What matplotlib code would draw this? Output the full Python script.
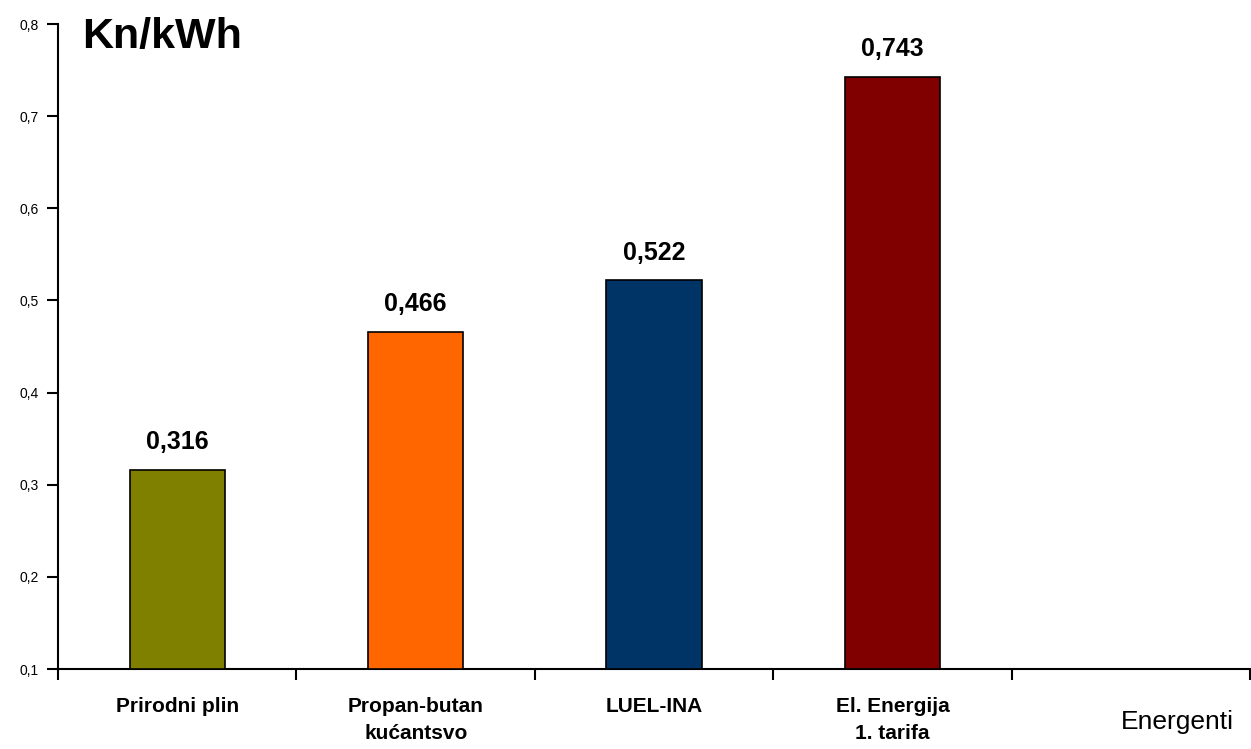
import matplotlib
matplotlib.use("Agg")
import matplotlib.pyplot as plt
from matplotlib.ticker import FixedLocator, NullFormatter

# data
categories = ["Prirodni plin", "Propan-butan\nkućantsvo", "LUEL-INA", "El. Energija\n1. tarifa"]
values     = [0.316, 0.466, 0.522, 0.743]
colors     = ["#808000", "#FF6600", "#003366", "#800000"]
yticks     = [0.1, 0.2, 0.3, 0.4, 0.5, 0.6, 0.7, 0.8]
n_slots    = 5                     # the last category slot is empty

plt.rcParams["font.family"] = ["Liberation Sans", "DejaVu Sans"]

fig = plt.figure(figsize=(12.51, 7.49), dpi=100)
ax = fig.add_axes([0.0464, 0.1068, 0.953, 0.861])

x = list(range(len(values)))
ax.bar(x, [v - 0.1 for v in values], bottom=0.1, width=0.40, color=colors,
       edgecolor="black", linewidth=1.2, zorder=3)

for xi, v in zip(x, values):
    ax.text(xi, v + 0.017, f"{v:.3f}".replace(".", ","), ha="center", va="bottom",
            fontsize=18, fontweight="bold")

ax.set_xlim(-0.5, n_slots - 0.5)
ax.set_ylim(0.1, 0.8)

ax.set_yticks(yticks)
ax.set_yticklabels([f"{t:.1f}".replace(".", ",") for t in yticks], fontsize=10)

# category boundaries carry the tick marks, labels sit in the middle
ax.xaxis.set_major_locator(FixedLocator([i - 0.5 for i in range(n_slots + 1)]))
ax.xaxis.set_major_formatter(NullFormatter())
ax.xaxis.set_minor_locator(FixedLocator(x))
ax.set_xticklabels(categories, minor=True, fontsize=15, fontweight="bold",
                   linespacing=1.55)
ax.tick_params(axis="x", which="minor", length=0, pad=20)
ax.tick_params(axis="x", which="major", length=8, width=1.5, direction="out")
ax.tick_params(axis="y", length=8, width=1.5, direction="out", pad=6)

for s in ("top", "right"):
    ax.spines[s].set_visible(False)
for s in ("left", "bottom"):
    ax.spines[s].set_linewidth(1.5)

fig.text(0.0655, 0.951, "Kn/kWh", fontsize=31, fontweight="bold", va="center", ha="left")
fig.text(0.9415, 0.036, "Energenti", fontsize=19, va="center", ha="center")

fig.savefig("out.png", dpi=100)
